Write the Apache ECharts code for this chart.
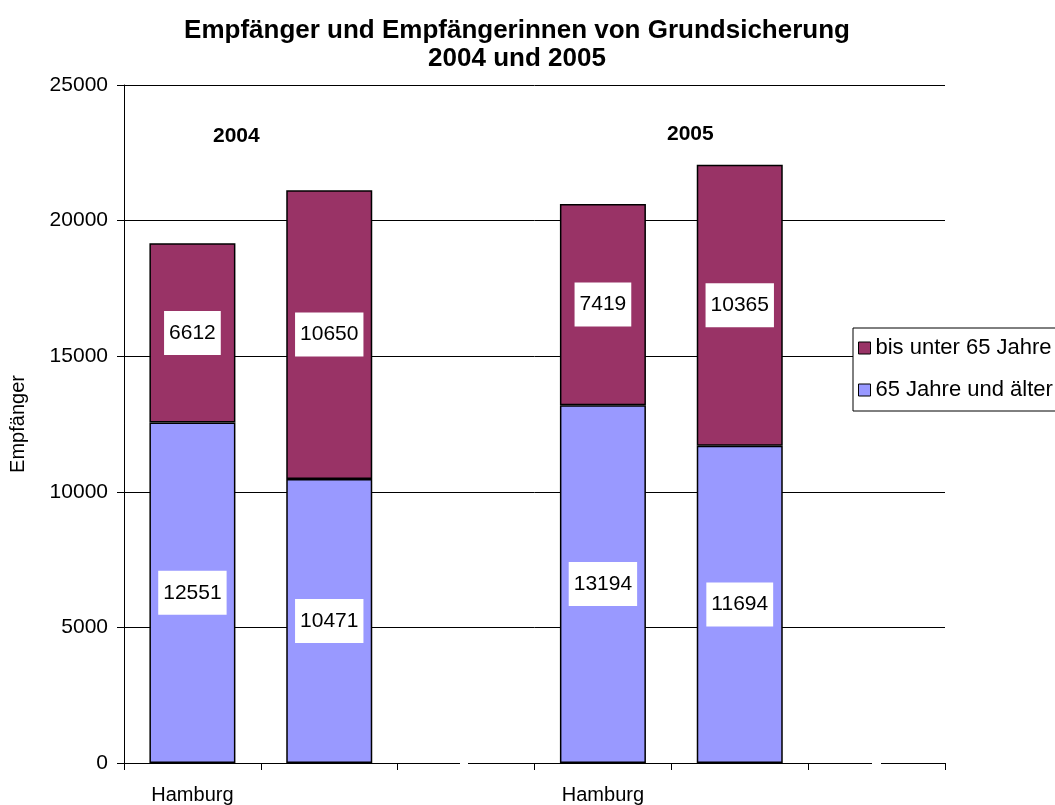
<!DOCTYPE html>
<html>
<head>
<meta charset="utf-8">
<script src="https://cdn.jsdelivr.net/npm/echarts@6/dist/echarts.min.js"></script>
<style>
  html, body { margin: 0; padding: 0; background: #fff; }
  #chart { width: 1055px; height: 805px; }
</style>
</head>
<body>
<div id="chart"></div>
<script>
// Kategorien (6 Plätze, davon 2 leer als Abstand)
var categories = ['Hamburg', '', '', 'Hamburg', '', ''];
// 65 Jahre und älter
var aelter = [12551, 10471, null, 13194, 11694, null];
// bis unter 65 Jahre
var unter65 = [6612, 10650, null, 7419, 10365, null];
var yTicks = [0, 5000, 10000, 15000, 20000, 25000];

var FONT = '"Liberation Sans", Arial, sans-serif';

var chart = echarts.init(document.getElementById('chart'));

var labelStyle = {
  show: true,
  position: 'inside',
  color: '#000',
  fontFamily: FONT,
  fontSize: 21,
  backgroundColor: '#fff',
  padding: [12, 5, 11, 5]
};

var option = {
  backgroundColor: '#fff',
  animation: false,
  title: {
    text: 'Empfänger und Empfängerinnen von Grundsicherung\n2004 und 2005',
    left: 512,
    top: 12,
    textAlign: 'center',
    textStyle: {
      fontFamily: FONT,
      fontWeight: 'bold',
      fontSize: 26,
      lineHeight: 28,
      color: '#000'
    }
  },
  legend: {
    orient: 'vertical',
    left: 853,
    top: 328,
    data: ['bis unter 65 Jahre', '65 Jahre und älter'],
    itemWidth: 12,
    itemHeight: 12,
    itemGap: 20,
    backgroundColor: '#fff',
    borderColor: '#000',
    borderWidth: 1,
    borderRadius: 0,
    padding: [9, 8, 10, 5],
    icon: 'rect',
    itemStyle: { borderColor: '#000', borderWidth: 1 },
    textStyle: { fontFamily: FONT, fontSize: 22, color: '#000' }
  },
  grid: {
    left: 122,
    right: 110,
    top: 85,
    bottom: 40
  },
  xAxis: {
    type: 'category',
    data: categories,
    boundaryGap: true,
    axisLine: { lineStyle: { color: '#000', width: 1 } },
    axisTick: { show: true, alignWithLabel: false, length: 7, interval: 0, lineStyle: { color: '#000' } },
    axisLabel: { interval: 0, color: '#000', fontFamily: FONT, fontSize: 20, margin: 22 }
  },
  yAxis: {
    type: 'value',
    min: yTicks[0],
    max: yTicks[yTicks.length - 1],
    interval: 5000,
    name: 'Empfänger',
    nameLocation: 'middle',
    nameGap: 96,
    nameRotate: 90,
    nameTextStyle: { fontFamily: FONT, fontSize: 20, color: '#000' },
    axisLine: { show: true, lineStyle: { color: '#000', width: 1 } },
    axisTick: { show: true, length: 7, lineStyle: { color: '#000' } },
    axisLabel: {
      color: '#000', fontFamily: FONT, fontSize: 21, margin: 16,
      formatter: function (v) { return String(v); }
    },
    splitLine: { show: true, lineStyle: { color: '#000', width: 1 } }
  },
  series: [
    {
      name: '65 Jahre und älter',
      type: 'bar',
      stack: 'gesamt',
      data: aelter,
      barWidth: 86,
      itemStyle: { color: '#9999FF', borderColor: '#000', borderWidth: 1.5 },
      label: labelStyle
    },
    {
      name: 'bis unter 65 Jahre',
      type: 'bar',
      stack: 'gesamt',
      data: unter65,
      barWidth: 86,
      itemStyle: { color: '#993366', borderColor: '#000', borderWidth: 1.5 },
      label: labelStyle
    }
  ],
  graphic: [
    {
      type: 'text', left: 213, top: 126,
      style: { text: '2004', font: 'bold 21px ' + FONT, fill: '#000' }
    },
    {
      type: 'text', left: 667, top: 124,
      style: { text: '2005', font: 'bold 21px ' + FONT, fill: '#000' }
    },
    // Lücken in der x-Achse wie im Original
    { type: 'rect', shape: { x: 460, y: 762, width: 8, height: 6 }, style: { fill: '#fff' }, z: 100 },
    { type: 'rect', shape: { x: 872, y: 762, width: 9, height: 6 }, style: { fill: '#fff' }, z: 100 }
  ]
};

chart.setOption(option);
</script>
</body>
</html>
